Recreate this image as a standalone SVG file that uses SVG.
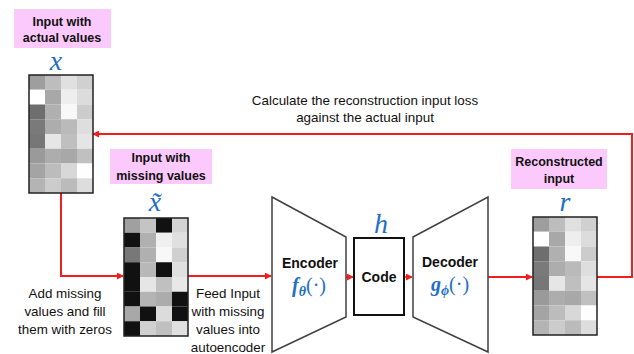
<svg xmlns="http://www.w3.org/2000/svg" xmlns:xlink="http://www.w3.org/1999/xlink" width="634" height="354" viewBox="0 0 634 354">
  <style>
    .tag { fill: #fbc9fb; }
    .tagText { font-family: "Liberation Sans", Arial, sans-serif; font-size: 12.5px; font-weight: bold; fill: #111; text-anchor: middle; }
    .note { font-family: "Liberation Sans", Arial, sans-serif; font-size: 13.4px; fill: #111; text-anchor: middle; }
    .math { font-family: "Liberation Serif", "DejaVu Serif", serif; font-style: italic; fill: #1f6fc6; text-anchor: middle; }
    .fn { font-family: "Liberation Serif", "DejaVu Serif", serif; fill: #1f6fc6; font-size: 20px; }
    .block { fill: #fff; stroke: #404040; stroke-width: 1.5; }
    .boxText { font-family: "Liberation Sans", Arial, sans-serif; font-size: 14px; font-weight: bold; fill: #111; text-anchor: middle; }
    .frame { fill: none; stroke: #222; stroke-width: 1.5; }
    .wire { fill: none; stroke: #f41c1c; stroke-width: 2; }
    .wireS { fill: none; stroke: #f41c1c; stroke-width: 1.5; }
  </style>
  <defs>
    <marker id="arrow" viewBox="0 0 8 8" refX="7" refY="4" markerWidth="7" markerHeight="7" markerUnits="userSpaceOnUse" orient="auto">
      <path d="M0,0 L8,4 L0,8 z" fill="#f41c1c"/>
    </marker>
    <!-- 4 x 8 pixel matrix with the full values -->
    <g id="matrixFull">
      <rect x="0" y="0" width="16" height="14.75" fill="#9e9e9e"/>
      <rect x="16" y="0" width="16" height="14.75" fill="#bdbdbd"/>
      <rect x="32" y="0" width="16" height="14.75" fill="#e0e0e0"/>
      <rect x="48" y="0" width="16" height="14.75" fill="#d0d0d0"/>
      <rect x="0" y="14.75" width="16" height="14.75" fill="#ffffff"/>
      <rect x="16" y="14.75" width="16" height="14.75" fill="#a8a8a8"/>
      <rect x="32" y="14.75" width="16" height="14.75" fill="#eeeeee"/>
      <rect x="48" y="14.75" width="16" height="14.75" fill="#dcdcdc"/>
      <rect x="0" y="29.5" width="16" height="14.75" fill="#6e6e6e"/>
      <rect x="16" y="29.5" width="16" height="14.75" fill="#b0b0b0"/>
      <rect x="32" y="29.5" width="16" height="14.75" fill="#f8f8f8"/>
      <rect x="48" y="29.5" width="16" height="14.75" fill="#cccccc"/>
      <rect x="0" y="44.25" width="16" height="14.75" fill="#7a7a7a"/>
      <rect x="16" y="44.25" width="16" height="14.75" fill="#adadad"/>
      <rect x="32" y="44.25" width="16" height="14.75" fill="#bababa"/>
      <rect x="48" y="44.25" width="16" height="14.75" fill="#dedede"/>
      <rect x="0" y="59" width="16" height="14.75" fill="#777777"/>
      <rect x="16" y="59" width="16" height="14.75" fill="#e6e6e6"/>
      <rect x="32" y="59" width="16" height="14.75" fill="#bfbfbf"/>
      <rect x="48" y="59" width="16" height="14.75" fill="#e5e5e5"/>
      <rect x="0" y="73.75" width="16" height="14.75" fill="#9a9a9a"/>
      <rect x="16" y="73.75" width="16" height="14.75" fill="#adadad"/>
      <rect x="32" y="73.75" width="16" height="14.75" fill="#a8a8a8"/>
      <rect x="48" y="73.75" width="16" height="14.75" fill="#c0c0c0"/>
      <rect x="0" y="88.5" width="16" height="14.75" fill="#a4a4a4"/>
      <rect x="16" y="88.5" width="16" height="14.75" fill="#bcbcbc"/>
      <rect x="32" y="88.5" width="16" height="14.75" fill="#d8d8d8"/>
      <rect x="48" y="88.5" width="16" height="14.75" fill="#fefefe"/>
      <rect x="0" y="103.25" width="16" height="14.75" fill="#b4b4b4"/>
      <rect x="16" y="103.25" width="16" height="14.75" fill="#cccccc"/>
      <rect x="32" y="103.25" width="16" height="14.75" fill="#bbbbbb"/>
      <rect x="48" y="103.25" width="16" height="14.75" fill="#dddddd"/>
      <rect x="0" y="0" width="64" height="118" class="frame"/>
    </g>
    <!-- same matrix with some entries zeroed -->
    <g id="matrixMissing">
      <rect x="0" y="0" width="16" height="14.75" fill="#a0a0a0"/>
      <rect x="16" y="0" width="16" height="14.75" fill="#c4c4c4"/>
      <rect x="32" y="0" width="16" height="14.75" fill="#111111"/>
      <rect x="48" y="0" width="16" height="14.75" fill="#d4d4d4"/>
      <rect x="0" y="14.75" width="16" height="14.75" fill="#111111"/>
      <rect x="16" y="14.75" width="16" height="14.75" fill="#b0b0b0"/>
      <rect x="32" y="14.75" width="16" height="14.75" fill="#f0f0f0"/>
      <rect x="48" y="14.75" width="16" height="14.75" fill="#e0e0e0"/>
      <rect x="0" y="29.5" width="16" height="14.75" fill="#787878"/>
      <rect x="16" y="29.5" width="16" height="14.75" fill="#b0b0b0"/>
      <rect x="32" y="29.5" width="16" height="14.75" fill="#f8f8f8"/>
      <rect x="48" y="29.5" width="16" height="14.75" fill="#d0d0d0"/>
      <rect x="0" y="44.25" width="16" height="14.75" fill="#111111"/>
      <rect x="16" y="44.25" width="16" height="14.75" fill="#b8b8b8"/>
      <rect x="32" y="44.25" width="16" height="14.75" fill="#111111"/>
      <rect x="48" y="44.25" width="16" height="14.75" fill="#e0e0e0"/>
      <rect x="0" y="59" width="16" height="14.75" fill="#111111"/>
      <rect x="16" y="59" width="16" height="14.75" fill="#e6e6e6"/>
      <rect x="32" y="59" width="16" height="14.75" fill="#c0c0c0"/>
      <rect x="48" y="59" width="16" height="14.75" fill="#e8e8e8"/>
      <rect x="0" y="73.75" width="16" height="14.75" fill="#111111"/>
      <rect x="16" y="73.75" width="16" height="14.75" fill="#b4b4b4"/>
      <rect x="32" y="73.75" width="16" height="14.75" fill="#acacac"/>
      <rect x="48" y="73.75" width="16" height="14.75" fill="#111111"/>
      <rect x="0" y="88.5" width="16" height="14.75" fill="#a8a8a8"/>
      <rect x="16" y="88.5" width="16" height="14.75" fill="#111111"/>
      <rect x="32" y="88.5" width="16" height="14.75" fill="#dcdcdc"/>
      <rect x="48" y="88.5" width="16" height="14.75" fill="#111111"/>
      <rect x="0" y="103.25" width="16" height="14.75" fill="#111111"/>
      <rect x="16" y="103.25" width="16" height="14.75" fill="#d0d0d0"/>
      <rect x="32" y="103.25" width="16" height="14.75" fill="#c0c0c0"/>
      <rect x="48" y="103.25" width="16" height="14.75" fill="#e0e0e0"/>
      <rect x="0" y="0" width="64" height="118" class="frame"/>
    </g>
  </defs>

  <rect width="634" height="354" fill="#fff"/>

  <!-- connectors -->
  <g id="connectors">
    <path class="wire" d="M61,193 V276 H123" marker-end="url(#arrow)"/>
    <path class="wire" d="M188,276 H271" marker-end="url(#arrow)"/>
    <path class="wireS" d="M346,277 H353" marker-end="url(#arrow)"/>
    <path class="wireS" d="M404,277 H412" marker-end="url(#arrow)"/>
    <path class="wire" d="M488,277 H532" marker-end="url(#arrow)"/>
    <path class="wire" d="M597,277 H632 V134 H93" marker-end="url(#arrow)"/>
  </g>

  <!-- input with actual values -->
  <g id="input-actual">
    <rect class="tag" x="14" y="9" width="97" height="39"/>
    <text class="tagText" x="62" y="26">Input with</text>
    <text class="tagText" x="62" y="42">actual values</text>
    <text class="math" x="56" y="70" font-size="28">x</text>
    <use xlink:href="#matrixFull" x="29" y="75"/>
  </g>

  <!-- input with missing values -->
  <g id="input-missing">
    <rect class="tag" x="110" y="149" width="102" height="35"/>
    <text class="tagText" x="161" y="162">Input with</text>
    <text class="tagText" x="161" y="180">missing values</text>
    <text class="math" x="155" y="211" font-size="28">x̃</text>
    <use xlink:href="#matrixMissing" x="124" y="218"/>
  </g>

  <!-- encoder -->
  <g id="encoder">
    <polygon class="block" points="272,197 346,237 346,317 272,352"/>
    <text class="boxText" x="310" y="268">Encoder</text>
    <text class="fn" x="309" y="292" text-anchor="middle"><tspan font-weight="bold" font-style="italic">f</tspan><tspan font-weight="bold" font-style="italic" font-size="14" dy="4">θ</tspan><tspan dy="-4">(·)</tspan></text>
  </g>

  <!-- code -->
  <g id="code">
    <text class="math" x="381" y="233" font-size="28">h</text>
    <rect x="354" y="238" width="50" height="77" fill="#fff" stroke="#111" stroke-width="2"/>
    <text class="boxText" x="379" y="282">Code</text>
  </g>

  <!-- decoder -->
  <g id="decoder">
    <polygon class="block" points="413,237 488,197 488,352 413,317"/>
    <text class="boxText" x="450" y="267">Decoder</text>
    <text class="fn" x="450" y="291" text-anchor="middle"><tspan font-weight="bold" font-style="italic">g</tspan><tspan font-weight="bold" font-style="italic" font-size="14" dy="4">ϕ</tspan><tspan dy="-4">(·)</tspan></text>
  </g>

  <!-- reconstructed input -->
  <g id="reconstructed">
    <rect class="tag" x="511" y="149" width="96" height="40"/>
    <text class="tagText" x="559" y="166">Reconstructed</text>
    <text class="tagText" x="559" y="183">input</text>
    <text class="math" x="565" y="211" font-size="28">r</text>
    <use xlink:href="#matrixFull" x="533" y="217"/>
  </g>

  <!-- annotations -->
  <g id="notes">
    <text class="note" x="365" y="105">Calculate the reconstruction input loss</text>
    <text class="note" x="365" y="122">against the actual input</text>
    <text class="note" x="65" y="298">Add missing</text>
    <text class="note" x="65" y="316">values and fill</text>
    <text class="note" x="65" y="334">them with zeros</text>
    <text class="note" x="228" y="298">Feed Input</text>
    <text class="note" x="228" y="316">with missing</text>
    <text class="note" x="228" y="334">values into</text>
    <text class="note" x="228" y="352">autoencoder</text>
  </g>
</svg>
